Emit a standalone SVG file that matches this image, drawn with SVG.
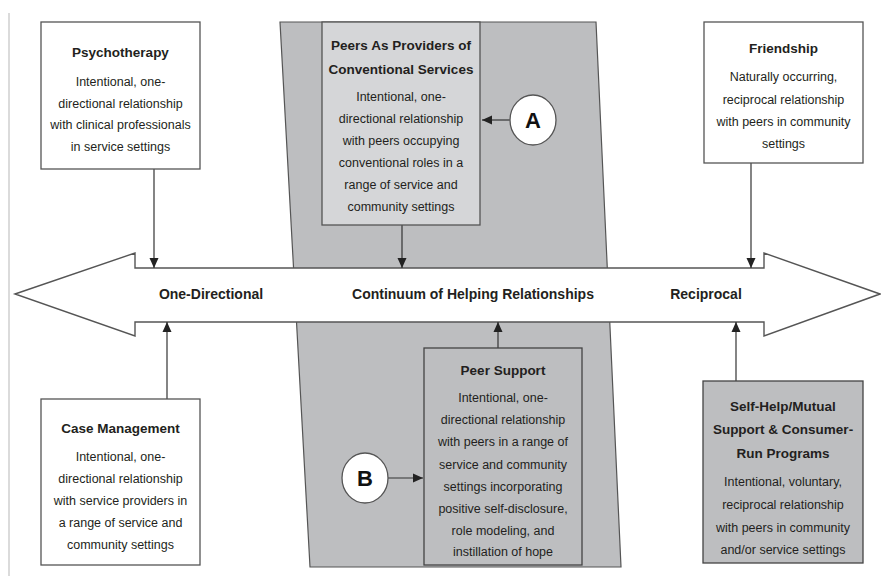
<svg xmlns="http://www.w3.org/2000/svg" width="881" height="576" viewBox="0 0 881 576">
<defs>
<marker id="ah" markerUnits="userSpaceOnUse" markerWidth="10" markerHeight="10" refX="10" refY="5" orient="auto">
<path d="M0,0.5 L10,5 L0,9.5 z" fill="#222"/>
</marker>
<style>
.box{fill:#fff;stroke:#555;stroke-width:1.3}
.gbox{fill:#d5d6d8;stroke:#555;stroke-width:1.3}
.dbox{fill:#bdbec0;stroke:#444;stroke-width:1.3}
.t{font-family:"Liberation Sans",Arial,sans-serif;font-weight:bold;font-size:13.5px;fill:#231f20;text-anchor:middle}
.b{font-family:"Liberation Sans",Arial,sans-serif;font-size:12.5px;fill:#231f20;text-anchor:middle}
.lab{font-family:"Liberation Sans",Arial,sans-serif;font-weight:bold;font-size:14px;fill:#231f20;text-anchor:middle}
.con{stroke:#333;stroke-width:1.2;fill:none;marker-end:url(#ah)}
.circ{fill:#fff;stroke:#555;stroke-width:1.3}
.let{font-family:"Liberation Sans",Arial,sans-serif;font-weight:bold;font-size:22px;fill:#111;text-anchor:middle}
</style>
</defs>
<rect width="881" height="576" fill="#fff"/>
<line x1="9" y1="13" x2="9" y2="576" stroke="#cfcfcf" stroke-width="1.5"/>
<polygon id="band" points="280,22 596,22 621,567 310,567" fill="#bdbec0" stroke="#555" stroke-width="1.2"/>
<g id="continuum">
<polygon points="15,294 135,253 135,268 764,268 764,253 880,294 764,336 764,322 135,322 135,336" fill="#fff" stroke="#555" stroke-width="1.4"/>
<text class="lab" x="211" y="299">One-Directional</text>
<text class="lab" x="473" y="299">Continuum of Helping Relationships</text>
<text class="lab" x="706" y="299">Reciprocal</text>
</g>
<g id="connectors">
<line class="con" x1="154" y1="169" x2="154" y2="268"/>
<line class="con" x1="402" y1="225" x2="402" y2="268"/>
<line class="con" x1="751" y1="163" x2="751" y2="268"/>
<line class="con" x1="167" y1="399" x2="167" y2="322"/>
<line class="con" x1="498" y1="348" x2="498" y2="322"/>
<line class="con" x1="736" y1="381" x2="736" y2="322"/>
<line class="con" x1="510" y1="120" x2="482" y2="120"/>
<line class="con" x1="388" y1="478" x2="423" y2="478"/>
</g>
<g id="psychotherapy">
<rect class="box" x="41" y="22" width="159" height="147"/>
<text class="t" x="120.5" y="57">Psychotherapy</text>
<text class="b" x="120.5" y="86">Intentional, one-</text>
<text class="b" x="120.5" y="108">directional relationship</text>
<text class="b" x="120.5" y="129">with clinical professionals</text>
<text class="b" x="120.5" y="151">in service settings</text>
</g>
<g id="peers-providers">
<rect class="gbox" x="322" y="22" width="158" height="203"/>
<text class="t" x="401" y="50">Peers As Providers of</text>
<text class="t" x="401" y="74">Conventional Services</text>
<text class="b" x="401" y="101">Intentional, one-</text>
<text class="b" x="401" y="123">directional relationship</text>
<text class="b" x="401" y="145">with peers occupying</text>
<text class="b" x="401" y="167">conventional roles in a</text>
<text class="b" x="401" y="189">range of service and</text>
<text class="b" x="401" y="211">community settings</text>
</g>
<g id="friendship">
<rect class="box" x="704" y="22" width="159" height="141"/>
<text class="t" x="783.5" y="53">Friendship</text>
<text class="b" x="783.5" y="81">Naturally occurring,</text>
<text class="b" x="783.5" y="104">reciprocal relationship</text>
<text class="b" x="783.5" y="126">with peers in community</text>
<text class="b" x="783.5" y="148">settings</text>
</g>
<g id="case-management">
<rect class="box" x="41" y="399" width="159" height="166"/>
<text class="t" x="120.5" y="433">Case Management</text>
<text class="b" x="120.5" y="461">Intentional, one-</text>
<text class="b" x="120.5" y="483">directional relationship</text>
<text class="b" x="120.5" y="505">with service providers in</text>
<text class="b" x="120.5" y="527">a range of service and</text>
<text class="b" x="120.5" y="549">community settings</text>
</g>
<g id="peer-support">
<rect class="dbox" x="424" y="348" width="158" height="217"/>
<text class="t" x="503" y="375">Peer Support</text>
<text class="b" x="503" y="402">Intentional, one-</text>
<text class="b" x="503" y="424">directional relationship</text>
<text class="b" x="503" y="446">with peers in a range of</text>
<text class="b" x="503" y="469">service and community</text>
<text class="b" x="503" y="491">settings incorporating</text>
<text class="b" x="503" y="513">positive self-disclosure,</text>
<text class="b" x="503" y="535">role modeling, and</text>
<text class="b" x="503" y="556">instillation of hope</text>
</g>
<g id="self-help">
<rect class="dbox" x="703" y="381" width="160" height="182"/>
<text class="t" x="783" y="411">Self-Help/Mutual</text>
<text class="t" x="783" y="434">Support &amp; Consumer-</text>
<text class="t" x="783" y="458">Run Programs</text>
<text class="b" x="783" y="486">Intentional, voluntary,</text>
<text class="b" x="783" y="509">reciprocal relationship</text>
<text class="b" x="783" y="532">with peers in community</text>
<text class="b" x="783" y="554">and/or service settings</text>
</g>
<g id="marker-a">
<ellipse class="circ" cx="533" cy="120" rx="23" ry="25"/>
<text class="let" x="533" y="128">A</text>
</g>
<g id="marker-b">
<ellipse class="circ" cx="365" cy="478" rx="23" ry="25"/>
<text class="let" x="365" y="486">B</text>
</g>
</svg>
